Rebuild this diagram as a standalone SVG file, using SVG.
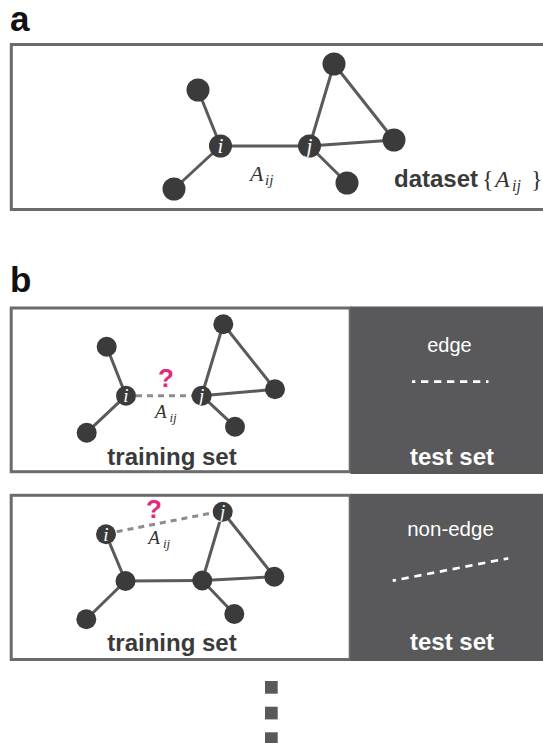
<svg xmlns="http://www.w3.org/2000/svg" width="543" height="743" viewBox="0 0 543 743">
<style>
.frame{fill:#fff;stroke:#6b6b6b;stroke-width:3}
.dark{fill:#59595b}
.edge{stroke:#5a5a5a;stroke-width:3;fill:none}
.cand{stroke:#8c8c8c;stroke-width:3;stroke-dasharray:6 5;fill:none}
.wdash{stroke:#fff;stroke-width:2.7;stroke-dasharray:7.3 5.7;stroke-dashoffset:4;fill:none}
.node{fill:#3b3b3b}
.lbl{font-family:"Liberation Serif",serif;font-style:italic;fill:#fff;text-anchor:middle}
.math{font-family:"Liberation Serif",serif;font-style:italic;fill:#333}
.brace{font-family:"Liberation Serif",serif;fill:#333}
.bold{font-family:"Liberation Sans",Arial,sans-serif;font-weight:bold;fill:#3a3a3a}
.white{font-family:"Liberation Sans",Arial,sans-serif;fill:#fff;text-anchor:middle}
.panel{font-family:"Liberation Sans",Arial,sans-serif;font-weight:bold;font-size:35px;fill:#111}
.q{font-family:"Liberation Sans",Arial,sans-serif;font-weight:bold;font-size:26px;fill:#e2297b;text-anchor:middle}
</style>

<!-- panel a -->
<text class="panel" x="10" y="30.5">a</text>
<rect id="frame-a" class="frame" x="11.3" y="44.5" width="545" height="165"/>

<g id="connectors">
  <line class="edge" x1="198" y1="90" x2="220.5" y2="146"/>
  <line class="edge" x1="220.5" y1="146" x2="174" y2="189"/>
  <line class="edge" x1="220.5" y1="146" x2="309.5" y2="146"/>
  <line class="edge" x1="309.5" y1="146" x2="334" y2="64"/>
  <line class="edge" x1="334" y1="64" x2="394" y2="140"/>
  <line class="edge" x1="309.5" y1="146" x2="394" y2="140"/>
  <line class="edge" x1="309.5" y1="146" x2="347" y2="183"/>
</g>

<g id="a-node-tl"><circle class="node" cx="198" cy="90" r="11.5"/></g>
<g id="a-node-bl"><circle class="node" cx="174" cy="189" r="11.5"/></g>
<g id="a-node-top"><circle class="node" cx="334" cy="64" r="11.5"/></g>
<g id="a-node-right"><circle class="node" cx="394" cy="140" r="11.5"/></g>
<g id="a-node-br"><circle class="node" cx="347" cy="183" r="11.5"/></g>
<g id="a-node-i"><circle class="node" cx="220.5" cy="146" r="11.5"/><text class="lbl" x="220.5" y="153" font-size="21">i</text></g>
<g id="a-node-j"><circle class="node" cx="309.5" cy="146" r="11.5"/><text class="lbl" x="309.5" y="152.5" font-size="21">j</text></g>

<g id="a-label-Aij">
  <text class="math" x="250" y="181" font-size="22">A</text>
  <text class="math" x="265" y="185" font-size="15">ij</text>
</g>
<g id="a-dataset">
  <text class="bold" x="394" y="187" font-size="24">dataset</text>
  <text class="brace" x="482" y="187" font-size="24">{</text>
  <text class="math" x="495" y="187" font-size="24">A</text>
  <text class="math" x="512" y="191" font-size="16">ij</text>
  <text class="brace" x="531" y="187" font-size="24">}</text>
</g>

<!-- panel b -->
<text class="panel" x="10" y="291.5">b</text>

<g id="box1">
  <rect class="frame" x="11.2" y="308" width="339" height="163.7"/>
  <rect class="dark" x="350.5" y="306.5" width="193" height="167.5"/>
</g>
<g id="connectors-b1">
  <line class="edge" x1="106.7" y1="346.7" x2="126" y2="395.7"/>
  <line class="edge" x1="126" y1="395.7" x2="86.7" y2="432.7"/>
  <line class="edge" x1="201.7" y1="395.7" x2="223.3" y2="324.3"/>
  <line class="edge" x1="223.3" y1="324.3" x2="275" y2="389.3"/>
  <line class="edge" x1="201.7" y1="395.7" x2="275" y2="389.3"/>
  <line class="edge" x1="201.7" y1="395.7" x2="235" y2="426.7"/>
  <line class="cand" x1="136" y1="395.7" x2="192" y2="395.7"/>
  <line class="wdash" x1="412" y1="381.7" x2="488.5" y2="381.7"/>
</g>
<g id="b1-node-tl"><circle class="node" cx="106.7" cy="346.7" r="10"/></g>
<g id="b1-node-bl"><circle class="node" cx="86.7" cy="432.7" r="10"/></g>
<g id="b1-node-top"><circle class="node" cx="223.3" cy="324.3" r="10"/></g>
<g id="b1-node-right"><circle class="node" cx="275" cy="389.3" r="10"/></g>
<g id="b1-node-br"><circle class="node" cx="235" cy="426.7" r="10"/></g>
<g id="b1-node-i"><circle class="node" cx="126" cy="395.7" r="10"/><text class="lbl" x="126" y="402" font-size="19">i</text></g>
<g id="b1-node-j"><circle class="node" cx="201.7" cy="395.7" r="10"/><text class="lbl" x="201.7" y="401.5" font-size="19">j</text></g>
<text class="q" x="166" y="387">?</text>
<text class="math" x="155" y="418" font-size="19">A</text>
<text class="math" x="169.5" y="422" font-size="13">ij</text>
<text class="bold" x="172" y="465" font-size="24" text-anchor="middle">training set</text>
<text class="white" x="449.5" y="352" font-size="20">edge</text>
<text class="white" x="452" y="465" font-size="24" font-weight="bold">test set</text>

<g id="box2">
  <rect class="frame" x="11.2" y="495.3" width="339" height="164.2"/>
  <rect class="dark" x="350.5" y="493.8" width="193" height="167.2"/>
</g>
<g id="connectors-b2">
  <line class="edge" x1="106" y1="534.3" x2="125.5" y2="581"/>
  <line class="edge" x1="125.5" y1="581" x2="86.3" y2="619.3"/>
  <line class="edge" x1="125.5" y1="581" x2="202.3" y2="580.5"/>
  <line class="edge" x1="202.3" y1="580.5" x2="222.7" y2="511.7"/>
  <line class="edge" x1="222.7" y1="511.7" x2="274.3" y2="576.7"/>
  <line class="edge" x1="202.3" y1="580.5" x2="274.3" y2="576.7"/>
  <line class="edge" x1="202.3" y1="580.5" x2="234.3" y2="614"/>
  <line class="cand" x1="116.7" y1="531.7" x2="213.3" y2="512.7"/>
  <line class="wdash" x1="392.7" y1="580.7" x2="508.3" y2="558.3"/>
</g>
<g id="b2-node-L"><circle class="node" cx="125.5" cy="581" r="10"/></g>
<g id="b2-node-R"><circle class="node" cx="202.3" cy="580.5" r="10"/></g>
<g id="b2-node-bl"><circle class="node" cx="86.3" cy="619.3" r="10"/></g>
<g id="b2-node-right"><circle class="node" cx="274.3" cy="576.7" r="10"/></g>
<g id="b2-node-br"><circle class="node" cx="234.3" cy="614" r="10"/></g>
<g id="b2-node-i"><circle class="node" cx="106" cy="534.3" r="10"/><text class="lbl" x="106" y="540.7" font-size="19">i</text></g>
<g id="b2-node-j"><circle class="node" cx="222.7" cy="511.7" r="10"/><text class="lbl" x="222.7" y="517.5" font-size="19">j</text></g>
<text class="q" x="154" y="518">?</text>
<text class="math" x="148.3" y="544" font-size="19">A</text>
<text class="math" x="163" y="548" font-size="13">ij</text>
<text class="bold" x="172" y="651" font-size="24" text-anchor="middle">training set</text>
<text class="white" x="450.5" y="536" font-size="20.5">non-edge</text>
<text class="white" x="452" y="650" font-size="24" font-weight="bold">test set</text>

<g id="ellipsis">
  <rect class="dark" x="265" y="681" width="12.7" height="12.7"/>
  <rect class="dark" x="265" y="706.7" width="12.7" height="12.7"/>
  <rect class="dark" x="265" y="732.3" width="12.7" height="12.7"/>
</g>
</svg>
